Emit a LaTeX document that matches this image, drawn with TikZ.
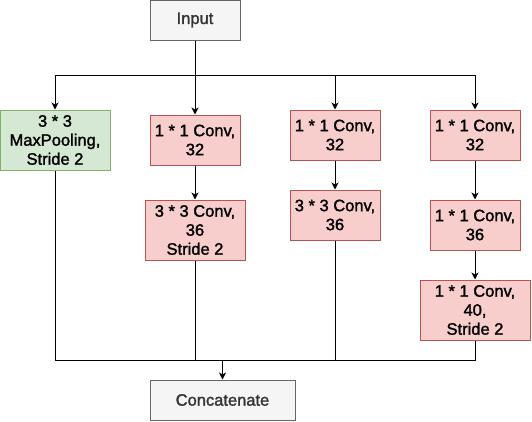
\documentclass[tikz,border=0pt]{standalone}
\usepackage{fontspec}
\setmainfont{Liberation Sans}
\newfontfamily\boxfont{Liberation Sans}[FakeBold=1.6]
\usetikzlibrary{arrows.meta}
\definecolor{greyfill}{HTML}{F5F5F5}
\definecolor{greydraw}{HTML}{666666}
\definecolor{greytext}{HTML}{333333}
\definecolor{redfill}{HTML}{F8CECC}
\definecolor{reddraw}{HTML}{B85450}
\definecolor{greenfill}{HTML}{D5E8D4}
\definecolor{greendraw}{HTML}{82B366}
\tikzset{
  box/.style={draw, line width=1pt, inner sep=0pt, align=center,
    font=\boxfont\fontsize{16.5}{19}\selectfont},
  greybox/.style={box, fill=greyfill, draw=greydraw, text=greytext},
  redbox/.style={box, fill=redfill, draw=reddraw, text=black},
  greenbox/.style={box, fill=greenfill, draw=greendraw, text=black},
  conn/.style={line width=1pt, draw=black},
  arr/.style={conn, -{Stealth[length=7pt,width=7pt,inset=2pt]}},
}
\begin{document}
\begin{tikzpicture}[x=1pt,y=-1pt]
\useasboundingbox (0,0) rectangle (532,421);
\node[greybox, minimum width=90pt, minimum height=40pt] (in) at (195,20) {Input};
\node[greenbox, minimum width=110pt, minimum height=60pt] (pool) at (55,140) {3 * 3\\MaxPooling,\\Stride 2};
\node[redbox, minimum width=90pt, minimum height=50pt] (c2a) at (195,140) {1 * 1 Conv,\\32};
\node[redbox, minimum width=100pt, minimum height=60pt] (c2b) at (195,230) {3 * 3 Conv,\\36\\Stride 2};
\node[redbox, minimum width=90pt, minimum height=50pt] (c3a) at (335,135) {1 * 1 Conv,\\32};
\node[redbox, minimum width=90pt, minimum height=50pt] (c3b) at (335,215) {3 * 3 Conv,\\36};
\node[redbox, minimum width=90pt, minimum height=50pt] (c4a) at (475,135) {1 * 1 Conv,\\32};
\node[redbox, minimum width=90pt, minimum height=50pt] (c4b) at (475,225) {1 * 1 Conv,\\36};
\node[redbox, minimum width=110pt, minimum height=60pt] (c4c) at (475,310) {1 * 1 Conv,\\40,\\Stride 2};
\node[greybox, minimum width=145pt, minimum height=40pt] (cat) at (222.5,400) {Concatenate};
\coordinate (split) at (195,75);
\coordinate (join) at (222.5,360);
\draw[conn] (in) -- (split);
\draw[arr] (split) -| (pool);
\draw[arr] (split) -- (c2a);
\draw[arr] (split) -| (c3a);
\draw[arr] (split) -| (c4a);
\draw[arr] (c2a) -- (c2b);
\draw[arr] (c3a) -- (c3b);
\draw[arr] (c4a) -- (c4b);
\draw[arr] (c4b) -- (c4c);
\draw[conn] (pool) |- (join);
\draw[conn] (c2b) |- (join);
\draw[conn] (c3b) |- (join);
\draw[conn] (c4c) |- (join);
\draw[arr] (join) -- (cat);
\end{tikzpicture}
\end{document}
